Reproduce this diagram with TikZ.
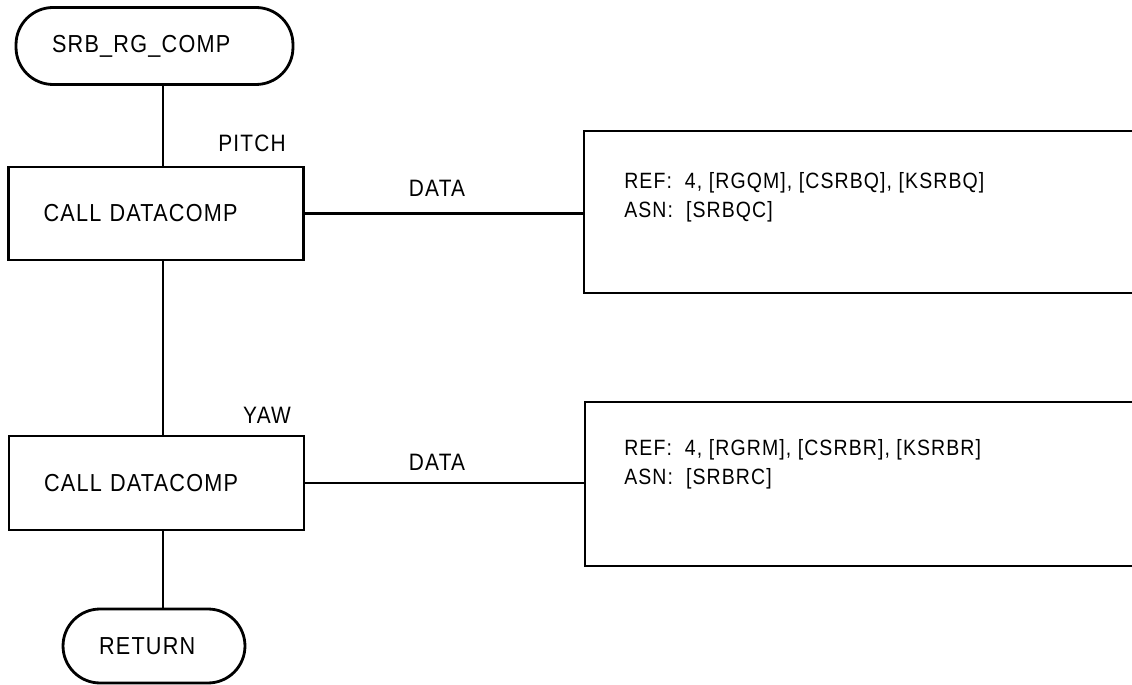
\documentclass[tikz,border=0pt]{standalone}
\usepackage{fontspec}
\setmainfont{Liberation Sans}[FakeStretch=0.88,LetterSpace=5]
\begin{document}
\begin{tikzpicture}[x=0.02cm,y=-0.02cm,line width=1.6pt,
  terminal/.style={draw,rounded corners=0.74cm,inner xsep=0.72cm,align=left,font=\fontsize{14}{16}\selectfont},
  callbox/.style={draw,inner xsep=0.7cm,align=left,font=\fontsize{14}{16}\selectfont},
  databox/.style={draw,minimum width=12cm},
  tag/.style={font=\fontsize{13.5}{15}\selectfont},
  reftext/.style={anchor=west,align=left,font=\fontsize{12.6}{16.4}\selectfont}]
\useasboundingbox (0,0) rectangle (1132,685);

% Draw terminals and calls
\node[terminal,text width=4.1cm,minimum height=1.54cm] (start) at (154.5,46) {SRB\_RG\_COMP};
\node[callbox,text width=4.5cm,minimum height=1.86cm] (pitch) at (156,213.5) {CALL DATACOMP};
\node[callbox,text width=4.5cm,minimum height=1.88cm] (yaw) at (156.5,483) {CALL DATACOMP};
\node[terminal,text width=2.2cm,minimum height=1.48cm] (ret) at (154,646) {RETURN};

% Draw data boxes
\node[databox,minimum height=3.24cm] (pdata) at (884,212) {};
\node[databox,minimum height=3.28cm] (ydata) at (885,484) {};
\node[reftext] (pref) at (617,197) {REF:\ \ 4, [RGQM], [CSRBQ], [KSRBQ]\\ASN:\ \ [SRBQC]};
\node[reftext] (yref) at (617,464) {REF:\ \ 4, [RGRM], [CSRBR], [KSRBR]\\ASN:\ \ [SRBRC]};

% Label lines
\node[tag] (pitchtag) at (252,143) {PITCH};
\node[tag] (yawtag) at (267,415) {YAW};
\node[tag] (pdatatag) at (437,188) {DATA};
\node[tag] (ydatatag) at (437,462) {DATA};

% Draw connectors
\coordinate (spine) at (163,0);
\draw (start.south -| spine) -- (pitch.north -| spine);
\draw (pitch.south -| spine) -- (yaw.north -| spine);
\draw (yaw.south -| spine) -- (ret.north -| spine);
\draw (pitch.east) -- (pitch.east -| pdata.west);
\draw (yaw.east) -- (yaw.east -| ydata.west);
\end{tikzpicture}
\end{document}
